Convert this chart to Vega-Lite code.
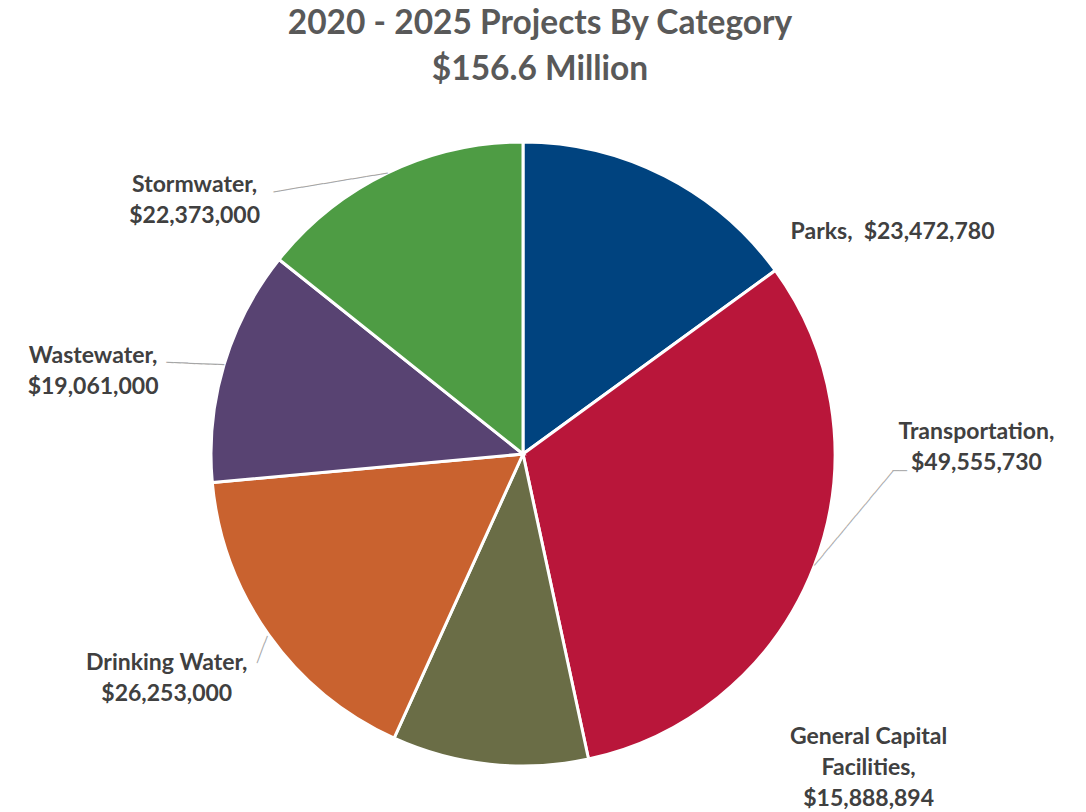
{
  "$schema": "https://vega.github.io/schema/vega-lite/v6.json",
  "width": 1046,
  "height": 708,
  "autosize": "none",
  "padding": {"left": 0, "top": 100, "right": 40, "bottom": 4},
  "background": "white",
  "view": {"stroke": null},
  "title": {
    "text": ["2020 - 2025 Projects By Category", "$156.6 Million"],
    "font": "Lato",
    "fontSize": 33.5,
    "fontWeight": "bold",
    "color": "#595959",
    "anchor": "middle",
    "frame": "group",
    "dx": 17,
    "dy": 72,
    "lineHeight": 46,
    "offset": 13
  },
  "data": {
    "values": [
      {"idx": 1, "category": "Parks", "amount": 23472780, "label": "Parks,\u00a0 $23,472,780"},
      {"idx": 2, "category": "Transportation", "amount": 49555730, "label": "Transportation,\n$49,555,730"},
      {"idx": 3, "category": "General Capital Facilities", "amount": 15888894, "label": "General Capital\nFacilities,\n$15,888,894"},
      {"idx": 4, "category": "Drinking Water", "amount": 26253000, "label": "Drinking Water,\n$26,253,000"},
      {"idx": 5, "category": "Wastewater", "amount": 19061000, "label": "Wastewater,\n$19,061,000"},
      {"idx": 6, "category": "Stormwater", "amount": 22373000, "label": "Stormwater,\n$22,373,000"}
    ]
  },
  "encoding": {
    "theta": {"field": "amount", "type": "quantitative", "stack": true},
    "order": {"field": "idx", "type": "quantitative"},
    "color": {
      "field": "category",
      "type": "nominal",
      "sort": null,
      "legend": null,
      "scale": {
        "domain": ["Parks", "Transportation", "General Capital Facilities", "Drinking Water", "Wastewater", "Stormwater"],
        "range": ["#00437F", "#B9163A", "#6A6D46", "#C9622F", "#584372", "#4E9C44"]
      }
    }
  },
  "layer": [
    {"mark": {"type": "arc", "outerRadius": 312, "stroke": "white", "strokeWidth": 3}},
    {
      "mark": {"type": "text", "radius": 312, "dx": 228, "dy": 56, "font": "Lato", "fontWeight": "bold", "fontSize": 23, "lineBreak": "\n", "lineHeight": 31, "align": "center", "baseline": "middle"},
      "encoding": {"text": {"condition": {"test": "datum.category === 'Parks'", "field": "label", "type": "nominal"}, "value": ""}, "fill": {"value": "#404040"}}
    },
    {
      "mark": {"type": "text", "radius": 312, "dx": 162, "dy": -133, "font": "Lato", "fontWeight": "bold", "fontSize": 23, "lineBreak": "\n", "lineHeight": 31, "align": "center", "baseline": "middle"},
      "encoding": {"text": {"condition": {"test": "datum.category === 'Transportation'", "field": "label", "type": "nominal"}, "value": ""}, "fill": {"value": "#404040"}}
    },
    {
      "mark": {"type": "text", "radius": 312, "dx": 379, "dy": -27, "font": "Lato", "fontWeight": "bold", "fontSize": 23, "lineBreak": "\n", "lineHeight": 31, "align": "center", "baseline": "middle"},
      "encoding": {"text": {"condition": {"test": "datum.category === 'General Capital Facilities'", "field": "label", "type": "nominal"}, "value": ""}, "fill": {"value": "#404040"}}
    },
    {
      "mark": {"type": "text", "radius": 312, "dx": -102, "dy": 28, "font": "Lato", "fontWeight": "bold", "fontSize": 23, "lineBreak": "\n", "lineHeight": 31, "align": "center", "baseline": "middle"},
      "encoding": {"text": {"condition": {"test": "datum.category === 'Drinking Water'", "field": "label", "type": "nominal"}, "value": ""}, "fill": {"value": "#404040"}}
    },
    {
      "mark": {"type": "text", "radius": 312, "dx": -131, "dy": -9, "font": "Lato", "fontWeight": "bold", "fontSize": 23, "lineBreak": "\n", "lineHeight": 31, "align": "center", "baseline": "middle"},
      "encoding": {"text": {"condition": {"test": "datum.category === 'Wastewater'", "field": "label", "type": "nominal"}, "value": ""}, "fill": {"value": "#404040"}}
    },
    {
      "mark": {"type": "text", "radius": 312, "dx": -193, "dy": 12, "font": "Lato", "fontWeight": "bold", "fontSize": 23, "lineBreak": "\n", "lineHeight": 31, "align": "center", "baseline": "middle"},
      "encoding": {"text": {"condition": {"test": "datum.category === 'Stormwater'", "field": "label", "type": "nominal"}, "value": ""}, "fill": {"value": "#404040"}}
    },
    {
      "mark": {"type": "text", "radius": 312, "angle": 170.6, "font": "DejaVu Sans Mono", "fontSize": 12, "align": "left", "baseline": "middle"},
      "encoding": {"text": {"condition": {"test": "datum.category === 'Stormwater'", "value": "────────────────"}, "value": ""}, "fill": {"value": "#A6A6A6"}}
    },
    {
      "mark": {"type": "text", "radius": 312, "angle": 182.3, "font": "DejaVu Sans Mono", "fontSize": 12, "align": "left", "baseline": "middle"},
      "encoding": {"text": {"condition": {"test": "datum.category === 'Wastewater'", "value": "────────"}, "value": ""}, "fill": {"value": "#A6A6A6"}}
    },
    {
      "mark": {"type": "text", "radius": 314, "angle": 110.7, "font": "DejaVu Sans Mono", "fontSize": 12, "align": "left", "baseline": "middle"},
      "encoding": {"text": {"condition": {"test": "datum.category === 'Drinking Water'", "value": "────"}, "value": ""}, "fill": {"value": "#A6A6A6"}}
    },
    {
      "mark": {"type": "text", "radius": 312, "angle": 309.8, "font": "DejaVu Sans Mono", "fontSize": 12, "align": "left", "baseline": "middle"},
      "encoding": {"text": {"condition": {"test": "datum.category === 'Transportation'", "value": "─────────────────"}, "value": ""}, "fill": {"value": "#A6A6A6"}}
    },
    {
      "mark": {"type": "text", "radius": 312, "dx": 78, "dy": -94, "font": "DejaVu Sans Mono", "fontSize": 12, "align": "left", "baseline": "middle"},
      "encoding": {"text": {"condition": {"test": "datum.category === 'Transportation'", "value": "──"}, "value": ""}, "fill": {"value": "#A6A6A6"}}
    }
  ]
}
